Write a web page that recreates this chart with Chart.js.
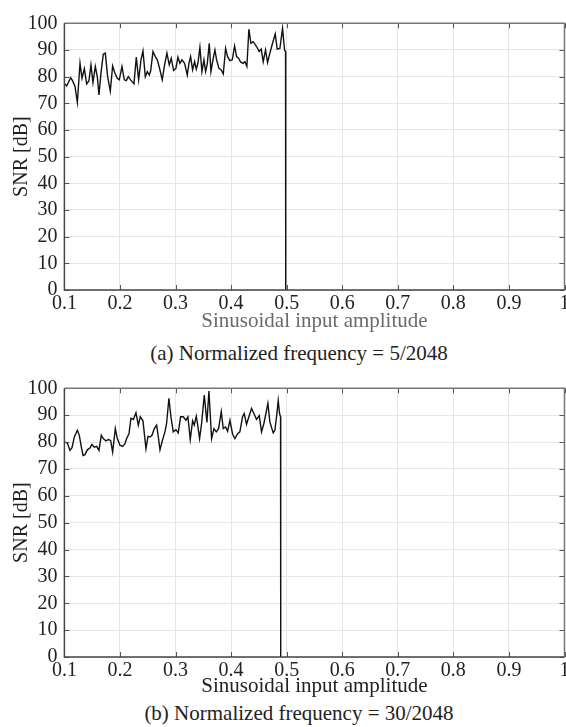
<!DOCTYPE html>
<html>
<head>
<meta charset="utf-8">
<script src="https://cdn.jsdelivr.net/npm/chart.js@4.4.1/dist/chart.umd.min.js"></script>
<style>
  html, body { margin: 0; padding: 0; background: #fff; }
  body { width: 566px; height: 727px; position: relative; overflow: hidden; font-family: 'Liberation Serif', 'Times New Roman', serif; }
  canvas { position: absolute; left: 0; }
  .caption { position: absolute; left: 0; width: 598px; text-align: center; font-size: 21px; line-height: 24px; color: #222; }
</style>
</head>
<body>
<canvas id="chartA" width="566" height="340" style="top:0"></canvas>
<div class="caption" style="top:341px">(a) Normalized frequency = 5/2048</div>
<canvas id="chartB" width="566" height="340" style="top:360px"></canvas>
<div class="caption" style="top:701px">(b) Normalized frequency = 30/2048</div>
<script>
// (a) 5/2048 -- amplitude vs SNR
const ampA = [0.1011, 0.1041, 0.1071, 0.1113, 0.1149, 0.1191, 0.1233, 0.1281, 0.1317, 0.1359,
  0.1400, 0.1442, 0.1478, 0.1514, 0.1556, 0.1592, 0.1622, 0.1658, 0.1700, 0.1736,
  0.1778, 0.1826, 0.1868, 0.1910, 0.1952, 0.1988, 0.2036, 0.2078, 0.2114, 0.2150,
  0.2192, 0.2252, 0.2294, 0.2336, 0.2378, 0.2414, 0.2456, 0.2492, 0.2528, 0.2552,
  0.2594, 0.2636, 0.2672, 0.2720, 0.2761, 0.2803, 0.2845, 0.2887, 0.2923, 0.2965,
  0.3007, 0.3043, 0.3079, 0.3115, 0.3163, 0.3211, 0.3241, 0.3271, 0.3307, 0.3343,
  0.3373, 0.3403, 0.3439, 0.3475, 0.3511, 0.3541, 0.3571, 0.3607, 0.3637, 0.3673,
  0.3709, 0.3739, 0.3781, 0.3823, 0.3859, 0.3901, 0.3937, 0.3979, 0.4021, 0.4063,
  0.4099, 0.4134, 0.4170, 0.4212, 0.4248, 0.4284, 0.4320, 0.4356, 0.4398, 0.4458,
  0.4506, 0.4542, 0.4578, 0.4620, 0.4656, 0.4698, 0.4746, 0.4794, 0.4830, 0.4878,
  0.4926, 0.4962, 0.4980, 0.4983];
const snrA = [77.3, 76.5, 77.8, 79.6, 78.4, 76.3, 70.3, 85.0, 79.4, 83.0,
  77.3, 78.5, 84.4, 77.8, 83.8, 80.0, 73.1, 81.3, 88.4, 88.8,
  80.0, 74.6, 84.0, 81.3, 79.4, 78.8, 83.8, 78.8, 78.5, 80.0,
  78.8, 77.3, 87.3, 78.8, 86.3, 89.6, 80.0, 81.9, 80.6, 82.1,
  89.4, 87.5, 86.3, 82.5, 78.8, 84.4, 88.8, 84.4, 86.9, 82.3,
  83.1, 87.3, 85.0, 86.3, 85.0, 80.6, 85.0, 87.5, 82.5, 85.6,
  82.8, 85.0, 91.0, 81.9, 86.3, 81.9, 84.8, 92.5, 81.9, 86.3,
  90.0, 86.3, 83.1, 82.5, 81.0, 90.6, 87.5, 86.0, 86.3, 91.5,
  87.5, 86.9, 85.5, 85.0, 85.6, 83.8, 97.8, 92.5, 93.1, 91.3,
  89.4, 90.3, 85.6, 90.0, 85.3, 88.8, 92.5, 96.0, 90.3, 90.6,
  98.1, 90.0, 89.4, 0];

// (b) 30/2048
const ampB = [0.1011, 0.1053, 0.1101, 0.1137, 0.1179, 0.1233, 0.1269, 0.1299, 0.1335, 0.1371,
  0.1412, 0.1460, 0.1496, 0.1538, 0.1580, 0.1622, 0.1664, 0.1700, 0.1748, 0.1790,
  0.1832, 0.1868, 0.1916, 0.1952, 0.2000, 0.2048, 0.2090, 0.2120, 0.2162, 0.2198,
  0.2240, 0.2288, 0.2330, 0.2366, 0.2414, 0.2468, 0.2504, 0.2540, 0.2576, 0.2618,
  0.2660, 0.2690, 0.2720, 0.2761, 0.2809, 0.2839, 0.2881, 0.2917, 0.2959, 0.3007,
  0.3049, 0.3091, 0.3139, 0.3187, 0.3223, 0.3265, 0.3307, 0.3337, 0.3373, 0.3397,
  0.3433, 0.3469, 0.3517, 0.3565, 0.3601, 0.3649, 0.3691, 0.3733, 0.3775, 0.3823,
  0.3859, 0.3901, 0.3937, 0.3979, 0.4027, 0.4069, 0.4117, 0.4158, 0.4206, 0.4236,
  0.4278, 0.4320, 0.4368, 0.4410, 0.4458, 0.4506, 0.4548, 0.4590, 0.4626, 0.4662,
  0.4698, 0.4734, 0.4758, 0.4788, 0.4818, 0.4848, 0.4872, 0.4890, 0.4893];
const snrB = [80.0, 79.6, 76.9, 77.9, 81.9, 84.4, 82.5, 78.8, 75.0, 75.3,
  77.1, 77.8, 79.1, 78.1, 78.4, 76.9, 82.5, 81.3, 80.4, 80.9,
  80.6, 76.3, 85.0, 81.3, 78.8, 78.4, 79.4, 81.3, 83.1, 88.8,
  88.4, 90.9, 86.3, 89.4, 87.9, 77.5, 82.1, 81.9, 82.5, 85.0,
  86.3, 81.9, 77.1, 80.4, 83.8, 86.9, 96.3, 89.4, 83.8, 84.6,
  83.4, 89.4, 89.4, 88.1, 89.4, 80.9, 87.9, 86.3, 89.6, 86.6,
  81.3, 86.9, 97.5, 87.3, 99.0, 81.3, 85.0, 83.8, 85.0, 91.3,
  85.0, 85.6, 84.0, 88.1, 82.9, 81.3, 83.1, 83.8, 89.4, 90.6,
  86.6, 89.4, 92.5, 90.6, 88.4, 89.8, 83.8, 86.9, 90.6, 94.4,
  87.5, 85.0, 83.4, 84.4, 89.4, 95.4, 90.6, 89.4, 0];

const xTickValues = [0.1, 0.2, 0.3, 0.4, 0.5, 0.6, 0.7, 0.8, 0.9, 1];
const xTickLabels = ['0.1', '0.2', '0.3', '0.4', '0.5', '0.6', '0.7', '0.8', '0.9', '1'];
const yTickValues = [0, 10, 20, 30, 40, 50, 60, 70, 80, 90, 100];

const SERIF = "'Liberation Serif', 'Times New Roman', serif";

// matlab style box with ticks pointing inwards
const boxTicks = {
  id: 'boxTicks',
  afterDraw(chart) {
    const { ctx, chartArea: a, scales } = chart;
    const len = 5;
    ctx.save();
    ctx.strokeStyle = '#555';
    ctx.lineWidth = 1;
    xTickValues.forEach(v => {
      const px = Math.round(scales.x.getPixelForValue(v)) + 0.5;
      ctx.beginPath();
      ctx.moveTo(px, a.bottom); ctx.lineTo(px, a.bottom - len);
      ctx.moveTo(px, a.top); ctx.lineTo(px, a.top + len);
      ctx.stroke();
    });
    yTickValues.forEach(v => {
      const py = Math.round(scales.y.getPixelForValue(v)) + 0.5;
      ctx.beginPath();
      ctx.moveTo(a.left, py); ctx.lineTo(a.left + len, py);
      ctx.moveTo(a.right, py); ctx.lineTo(a.right - len, py);
      ctx.stroke();
    });
    ctx.strokeStyle = '#777';
    ctx.lineWidth = 1.5;
    ctx.beginPath();
    ctx.moveTo(a.left, a.top); ctx.lineTo(a.right, a.top); ctx.lineTo(a.right, a.bottom);
    ctx.stroke();
    ctx.strokeStyle = '#444';
    ctx.beginPath();
    ctx.moveTo(a.left, a.top); ctx.lineTo(a.left, a.bottom); ctx.lineTo(a.right, a.bottom);
    ctx.stroke();
    ctx.restore();
  }
};

function makeChart(id, amps, snrs, padTop, xHeight, titleColor, titlePad) {
  const points = amps.map((a, i) => ({ x: a, y: snrs[i] }));
  return new Chart(document.getElementById(id), {
    type: 'line',
    data: {
      datasets: [{
        data: points,
        borderColor: '#111',
        borderWidth: 1.4,
        pointRadius: 0,
        tension: 0,
        fill: false
      }]
    },
    options: {
      responsive: false,
      animation: false,
      events: [],
      layout: { padding: { left: 10, top: padTop, right: 1.5, bottom: 0 } },
      plugins: { legend: { display: false }, tooltip: { enabled: false } },
      scales: {
        x: {
          type: 'linear',
          min: 0.1,
          max: 1,
          afterBuildTicks: s => { s.ticks = xTickValues.map(v => ({ value: v })); },
          afterFit: s => { s.height = xHeight; s.paddingLeft = 0; s.paddingRight = 0; },
          grid: { color: '#e6e6e6', drawTicks: false },
          border: { display: false },
          ticks: {
            padding: 2,
            maxRotation: 0,
            autoSkip: false,
            color: '#222',
            font: { family: SERIF, size: 20 },
            callback: v => xTickLabels[xTickValues.findIndex(t => Math.abs(t - v) < 1e-6)]
          },
          title: {
            display: true,
            text: 'Sinusoidal input amplitude',
            color: titleColor,
            font: { family: SERIF, size: 21 },
            padding: { top: 0, bottom: titlePad }
          }
        },
        y: {
          min: 0,
          max: 100,
          afterBuildTicks: s => { s.ticks = yTickValues.map(v => ({ value: v })); },
          afterFit: s => { s.width = 54.4; },
          grid: { color: '#e6e6e6', drawTicks: false },
          border: { display: false },
          ticks: {
            padding: 7,
            autoSkip: false,
            color: '#222',
            font: { family: SERIF, size: 20 }
          },
          title: {
            display: true,
            text: 'SNR [dB]',
            color: '#222',
            font: { family: SERIF, size: 20 },
            padding: 0
          }
        }
      }
    },
    plugins: [boxTicks]
  });
}

makeChart('chartA', ampA, snrA, 23.3, 50, '#6a6a6a', 6);
makeChart('chartB', ampB, snrB, 28.3, 43, '#222', 1);
</script>
</body>
</html>
